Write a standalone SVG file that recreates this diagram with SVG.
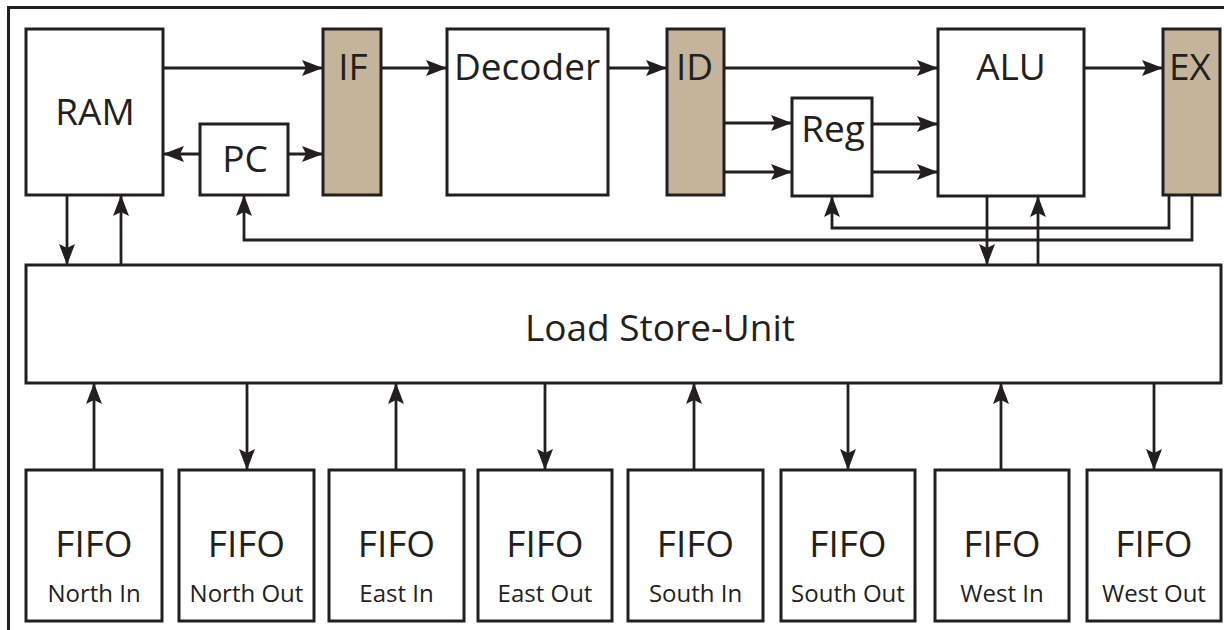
<svg xmlns="http://www.w3.org/2000/svg" width="1224" height="630" viewBox="0 0 1224 630">
  <defs>
    <style>
      .box { fill: #ffffff; stroke: #231f20; stroke-width: 3; }
      .reg { fill: #c4b59a; stroke: #231f20; stroke-width: 3; }
      .lbl { font-family: "Open Sans", "Noto Sans", sans-serif; fill: #231f20; text-anchor: middle; }
      .big { font-size: 37px; }
      .fifo { font-size: 37px; }
      .sub { font-size: 24px; }
      .wire { fill: none; stroke: #231f20; stroke-width: 2.8; marker-end: url(#arrow); }
      .plain { fill: none; stroke: #231f20; stroke-width: 3; }
    </style>
    <marker id="arrow" markerUnits="userSpaceOnUse" markerWidth="22" markerHeight="18" viewBox="0 0 22 18" refX="21" refY="9" orient="auto">
      <path d="M0,1 L21,9 L0,17 L4,9 Z" fill="#231f20"/>
    </marker>
  </defs>

  <g id="frame">
    <path class="plain" d="M8.5,630 V7.5 H1224"/>
  </g>

  <g id="connectors">
    <line class="wire" x1="163" y1="68" x2="323" y2="68"/>
    <line class="wire" x1="381" y1="68" x2="447" y2="68"/>
    <line class="wire" x1="608" y1="68" x2="667" y2="68"/>
    <line class="wire" x1="724" y1="68" x2="938" y2="68"/>
    <line class="wire" x1="1084" y1="68" x2="1163" y2="68"/>
    <line class="wire" x1="200" y1="154" x2="163" y2="154"/>
    <line class="wire" x1="288" y1="154" x2="323" y2="154"/>
    <line class="wire" x1="724" y1="123" x2="792" y2="123"/>
    <line class="wire" x1="724" y1="172" x2="792" y2="172"/>
    <line class="wire" x1="872" y1="124" x2="938" y2="124"/>
    <line class="wire" x1="872" y1="172" x2="938" y2="172"/>
    <line class="wire" x1="67" y1="195" x2="67" y2="265"/>
    <line class="wire" x1="121" y1="265" x2="121" y2="195"/>
    <path class="wire" d="M1192,195 V240 H244 V195"/>
    <path class="wire" d="M1169,195 V228 H832 V196"/>
    <line class="wire" x1="987" y1="196" x2="987" y2="265"/>
    <line class="wire" x1="1038" y1="265" x2="1038" y2="196"/>
    <line class="wire" x1="94" y1="470" x2="94" y2="383"/>
    <line class="wire" x1="247" y1="383" x2="247" y2="470"/>
    <line class="wire" x1="396" y1="470" x2="396" y2="383"/>
    <line class="wire" x1="545" y1="383" x2="545" y2="470"/>
    <line class="wire" x1="694" y1="470" x2="694" y2="383"/>
    <line class="wire" x1="848" y1="383" x2="848" y2="470"/>
    <line class="wire" x1="1001" y1="470" x2="1001" y2="383"/>
    <line class="wire" x1="1154" y1="383" x2="1154" y2="470"/>
  </g>

  <g id="ram">
    <rect class="box" x="26" y="29" width="137" height="166"/>
    <text class="lbl big" x="95" y="125">RAM</text>
  </g>
  <g id="pc">
    <rect class="box" x="200" y="124" width="88" height="71"/>
    <text class="lbl big" x="245" y="172">PC</text>
  </g>
  <g id="if">
    <rect class="reg" x="323" y="29" width="58" height="166"/>
    <text class="lbl big" x="353" y="80">IF</text>
  </g>
  <g id="decoder">
    <rect class="box" x="447" y="29" width="161" height="166"/>
    <text class="lbl big" x="527" y="80">Decoder</text>
  </g>
  <g id="id">
    <rect class="reg" x="667" y="29" width="57" height="166"/>
    <text class="lbl big" x="694.5" y="80">ID</text>
  </g>
  <g id="regfile">
    <rect class="box" x="792" y="98" width="80" height="98"/>
    <text class="lbl big" x="833" y="142">Reg</text>
  </g>
  <g id="alu">
    <rect class="box" x="938" y="29" width="146" height="167"/>
    <text class="lbl big" x="1011" y="80">ALU</text>
  </g>
  <g id="ex">
    <rect class="reg" x="1163" y="29" width="57" height="166"/>
    <text class="lbl big" x="1190" y="80">EX</text>
  </g>
  <g id="lsu">
    <rect class="box" x="26" y="265" width="1195" height="118"/>
    <text class="lbl big" x="660" y="341">Load Store-Unit</text>
  </g>

  <g id="fifo-north-in">
    <rect class="box" x="26" y="470" width="136" height="151"/>
    <text class="lbl fifo" x="94" y="557">FIFO</text>
    <text class="lbl sub" x="94" y="602">North In</text>
  </g>
  <g id="fifo-north-out">
    <rect class="box" x="179" y="470" width="135" height="151"/>
    <text class="lbl fifo" x="246.5" y="557">FIFO</text>
    <text class="lbl sub" x="246.5" y="602">North Out</text>
  </g>
  <g id="fifo-east-in">
    <rect class="box" x="329" y="470" width="135" height="151"/>
    <text class="lbl fifo" x="396.5" y="557">FIFO</text>
    <text class="lbl sub" x="396.5" y="602">East In</text>
  </g>
  <g id="fifo-east-out">
    <rect class="box" x="478" y="470" width="134" height="151"/>
    <text class="lbl fifo" x="545" y="557">FIFO</text>
    <text class="lbl sub" x="545" y="602">East Out</text>
  </g>
  <g id="fifo-south-in">
    <rect class="box" x="628" y="470" width="135" height="151"/>
    <text class="lbl fifo" x="695.5" y="557">FIFO</text>
    <text class="lbl sub" x="695.5" y="602">South In</text>
  </g>
  <g id="fifo-south-out">
    <rect class="box" x="781" y="470" width="134" height="151"/>
    <text class="lbl fifo" x="848" y="557">FIFO</text>
    <text class="lbl sub" x="848" y="602">South Out</text>
  </g>
  <g id="fifo-west-in">
    <rect class="box" x="935" y="470" width="134" height="151"/>
    <text class="lbl fifo" x="1002" y="557">FIFO</text>
    <text class="lbl sub" x="1002" y="602">West In</text>
  </g>
  <g id="fifo-west-out">
    <rect class="box" x="1087" y="470" width="134" height="151"/>
    <text class="lbl fifo" x="1154" y="557">FIFO</text>
    <text class="lbl sub" x="1154" y="602">West Out</text>
  </g>
</svg>
